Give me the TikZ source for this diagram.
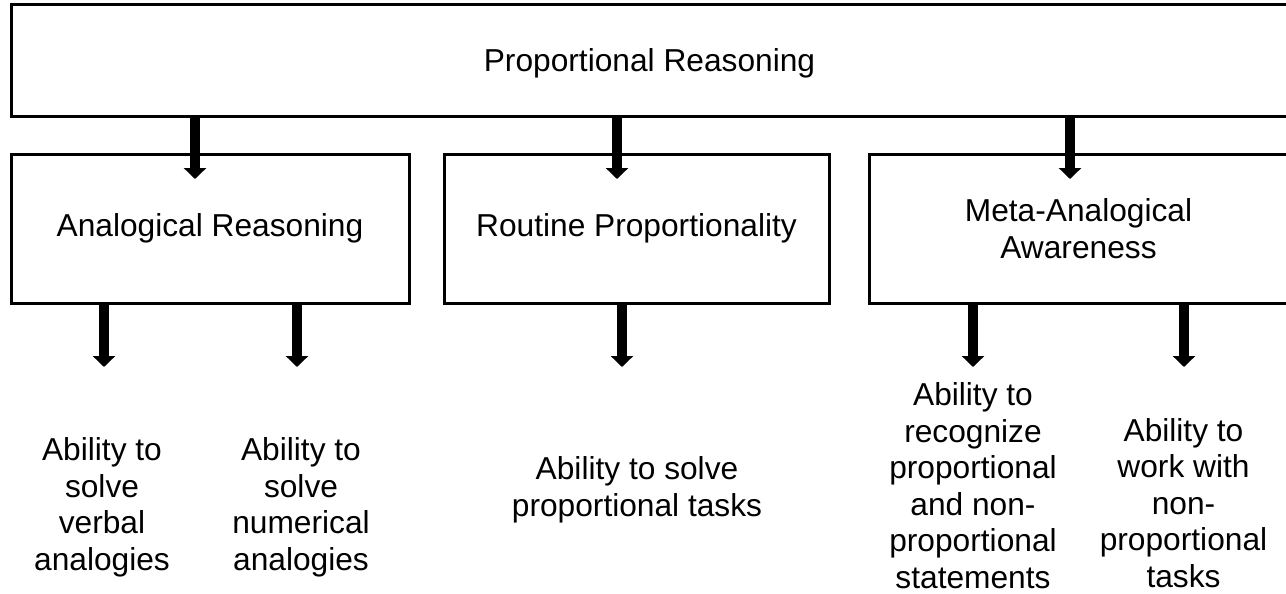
\documentclass[tikz,border=0pt]{standalone}
\usepackage{fontspec}
\setmainfont{Liberation Sans}
\usetikzlibrary{arrows.meta}
\newcommand\labelfont{\fontsize{15.85}{18.25}\selectfont}
\begin{document}
\begin{tikzpicture}[x=0.5pt,y=-0.5pt,
  box/.style={draw, line width=1.5pt, inner sep=0pt, align=center, font=\labelfont},
  lbl/.style={inner sep=0pt, align=center, font=\labelfont, anchor=base},
  down/.style={line width=5pt, -{Triangle[length=5.5pt,width=11pt]}}]
\useasboundingbox (0,0) rectangle (1286,594);

% boxes
\node[box, text depth=0pt, minimum width=638.5pt, minimum height=56pt] (pr) at (649.5,60) {Proportional Reasoning};
\node[box, minimum width=199pt, minimum height=74.5pt] (ar) at (210,228.5) {Analogical Reasoning};
\node[box, minimum width=192.5pt, minimum height=74.5pt] (rp) at (636.5,228.5) {Routine Proportionality};
\node[box, minimum width=209.5pt, minimum height=74.5pt] (ma) at (1078.5,228.5) {Meta-Analogical\\Awareness};

% arrow tips
\coordinate (t1) at (195,179);
\coordinate (t2) at (617,179);
\coordinate (t3) at (1070,179);
\coordinate (b1) at (104,367);
\coordinate (b2) at (297,367);
\coordinate (b3) at (622,367);
\coordinate (b4) at (973,367);
\coordinate (b5) at (1184,367);

\draw[down] (pr.south -| t1) -- (t1);
\draw[down] (pr.south -| t2) -- (t2);
\draw[down] (pr.south -| t3) -- (t3);
\draw[down] (ar.south -| b1) -- (b1);
\draw[down] (ar.south -| b2) -- (b2);
\draw[down] (rp.south -| b3) -- (b3);
\draw[down] (ma.south -| b4) -- (b4);
\draw[down] (ma.south -| b5) -- (b5);

% abilities (anchored at the baseline of the last line)
\node[lbl] (vb) at (102,570) {Ability to\\solve\\verbal\\analogies};
\node[lbl] (nm) at (301,570) {Ability to\\solve\\numerical\\analogies};
\node[lbl] (pt) at (637,516) {Ability to solve\\proportional tasks};
\node[lbl] (rc) at (973,588) {Ability to\\recognize\\proportional\\and non-\\proportional\\statements};
\node[lbl] (wk) at (1183.5,587) {Ability to\\work with\\non-\\proportional\\tasks};
\end{tikzpicture}
\end{document}
